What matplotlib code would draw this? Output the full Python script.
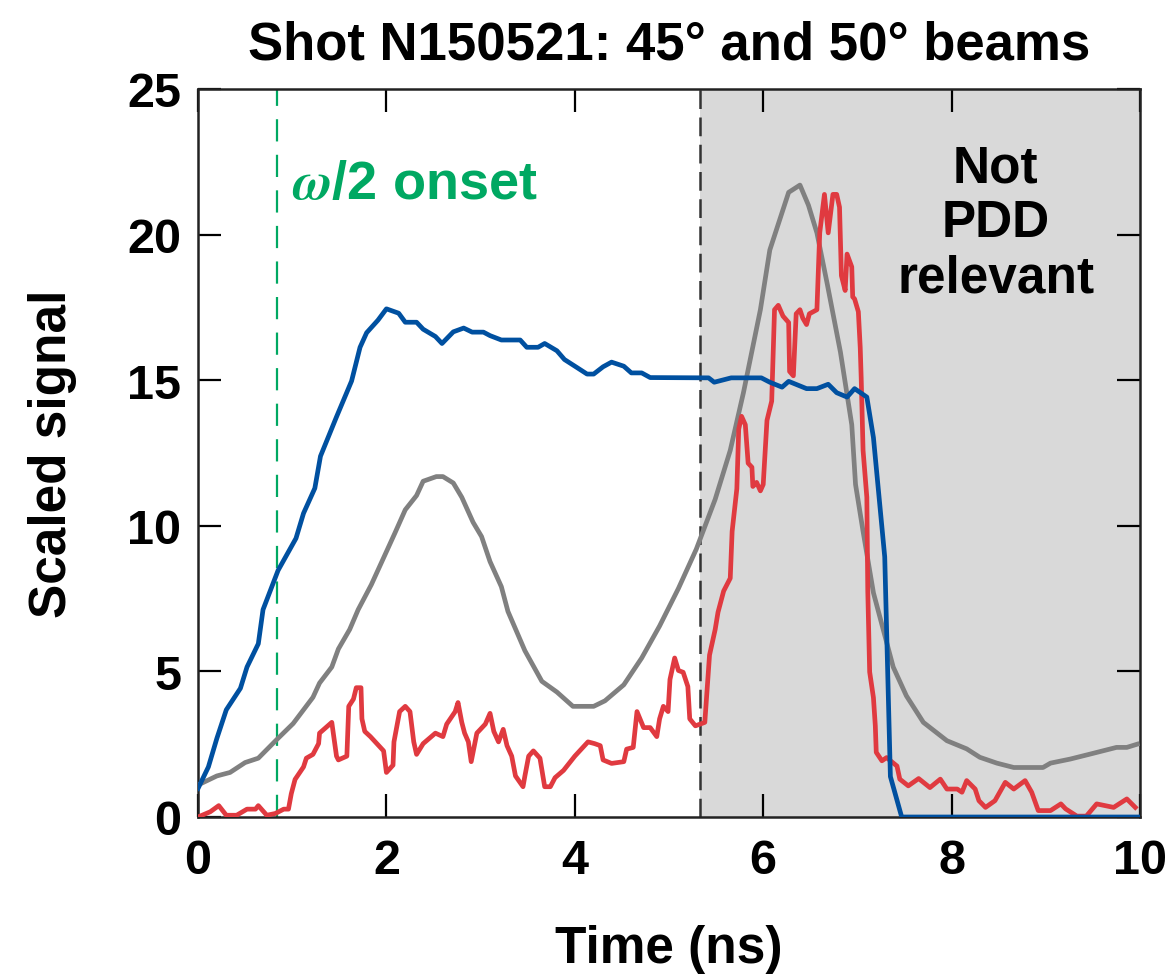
import matplotlib
matplotlib.use('Agg')
import matplotlib.pyplot as plt

# 读图得到的数据
blue_t = [0, 0.11, 0.20, 0.30, 0.45, 0.52, 0.64, 0.69, 0.85, 1.04, 1.12, 1.24, 1.30, 1.47, 1.63, 1.72, 1.79,
          1.91, 2.00, 2.13, 2.20, 2.32, 2.39, 2.52, 2.59, 2.71, 2.82, 2.91, 3.03, 3.10, 3.22, 3.42, 3.49, 3.61,
          3.68, 3.81, 3.89, 4.02, 4.13, 4.20, 4.30, 4.39, 4.52, 4.60, 4.71, 4.80, 5.42, 5.48, 5.66, 5.98, 6.07,
          6.20, 6.27, 6.46, 6.57, 6.69, 6.78, 6.89, 6.97, 7.10, 7.17, 7.29, 7.35, 7.47, 10.0]
blue_v = [0.98, 1.72, 2.7, 3.68, 4.42, 5.15, 5.95, 7.12, 8.47, 9.57, 10.43, 11.29, 12.39, 13.74, 14.97, 16.13,
          16.63, 17.06, 17.45, 17.30, 16.99, 16.99, 16.75, 16.50, 16.26, 16.66, 16.79, 16.65, 16.65, 16.53,
          16.38, 16.38, 16.13, 16.13, 16.26, 16.01, 15.71, 15.44, 15.21, 15.21, 15.46, 15.62, 15.48, 15.25,
          15.25, 15.09, 15.08, 14.93, 15.08, 15.08, 14.93, 14.76, 14.96, 14.71, 14.71, 14.86, 14.57, 14.42,
          14.71, 14.42, 13.03, 8.93, 1.39, 0.0, 0.0]

gray_t = [0, 0.20, 0.34, 0.50, 0.64, 0.83, 1.01, 1.22, 1.29, 1.42, 1.49, 1.61, 1.70, 1.84, 1.97, 2.09, 2.20,
          2.32, 2.39, 2.53, 2.60, 2.71, 2.80, 2.92, 3.01, 3.10, 3.22, 3.29, 3.47, 3.65, 3.81, 3.98, 4.20, 4.32,
          4.52, 4.71, 4.90, 5.10, 5.29, 5.49, 5.65, 5.79, 5.97, 6.07, 6.27, 6.39, 6.48, 6.57, 6.68, 6.82, 6.94,
          6.98, 7.06, 7.17, 7.38, 7.52, 7.70, 7.95, 8.16, 8.30, 8.48, 8.66, 8.97, 9.05, 9.26, 9.47, 9.75, 9.86,
          9.97]
gray_v = [1.1, 1.41, 1.53, 1.87, 2.02, 2.64, 3.21, 4.11, 4.60, 5.15, 5.77, 6.44, 7.12, 7.98, 8.90, 9.75, 10.55,
          11.04, 11.53, 11.69, 11.69, 11.47, 10.98, 10.12, 9.63, 8.77, 7.91, 7.06, 5.71, 4.66, 4.29, 3.80, 3.80,
          3.99, 4.54, 5.46, 6.56, 7.85, 9.2, 10.91, 12.59, 14.57, 17.42, 19.47, 21.45, 21.70, 21.01, 20.06,
          18.30, 15.96, 13.47, 11.42, 9.81, 7.7, 5.15, 4.16, 3.25, 2.62, 2.34, 2.05, 1.85, 1.70, 1.70, 1.85,
          1.99, 2.16, 2.39, 2.39, 2.50]

red_t = [0, 0.13, 0.22, 0.30, 0.41, 0.52, 0.61, 0.64, 0.73, 0.82, 0.91, 0.96, 0.99, 1.03, 1.12, 1.15, 1.22,
         1.28, 1.29, 1.42, 1.47, 1.49, 1.58, 1.60, 1.65, 1.68, 1.73, 1.74, 1.77, 1.83, 1.97, 2.00, 2.07, 2.08,
         2.14, 2.20, 2.25, 2.29, 2.32, 2.39, 2.52, 2.60, 2.64, 2.73, 2.76, 2.80, 2.83, 2.87, 2.90, 2.96, 3.05,
         3.10, 3.14, 3.19, 3.24, 3.28, 3.33, 3.37, 3.45, 3.47, 3.51, 3.56, 3.63, 3.68, 3.74, 3.79, 3.88, 4.00,
         4.14, 4.21, 4.27, 4.30, 4.39, 4.52, 4.55, 4.62, 4.66, 4.73, 4.80, 4.87, 4.90, 4.94, 4.99, 5.01, 5.06,
         5.10, 5.15, 5.20, 5.22, 5.28, 5.38, 5.43, 5.49, 5.52, 5.58, 5.65, 5.67, 5.72, 5.74, 5.77, 5.81, 5.84,
         5.88, 5.89, 5.93, 5.97, 6.00, 6.04, 6.09, 6.12, 6.16, 6.21, 6.27, 6.28, 6.32, 6.35, 6.39, 6.42, 6.46,
         6.49, 6.57, 6.58, 6.60, 6.65, 6.69, 6.74, 6.78, 6.81, 6.83, 6.87, 6.89, 6.94, 6.95, 6.97, 7.01, 7.03,
         7.04, 7.06, 7.10, 7.11, 7.13, 7.17, 7.19, 7.20, 7.26, 7.31, 7.42, 7.45, 7.54, 7.65, 7.77, 7.88, 7.95,
         8.06, 8.11, 8.16, 8.25, 8.29, 8.36, 8.46, 8.57, 8.66, 8.78, 8.85, 8.92, 9.05, 9.16, 9.21, 9.33, 9.43,
         9.54, 9.72, 9.86, 9.95]
red_v = [0, 0.18, 0.39, 0.06, 0.06, 0.27, 0.27, 0.39, 0.06, 0.12, 0.27, 0.27, 0.80, 1.29, 1.72, 2.02, 2.15,
         2.52, 2.88, 3.25, 2.09, 1.96, 2.09, 3.80, 4.05, 4.44, 4.44, 3.37, 2.94, 2.76, 2.27, 1.53, 1.78, 2.58,
         3.62, 3.80, 3.62, 2.58, 2.15, 2.52, 2.88, 2.76, 3.19, 3.62, 3.93, 3.25, 2.88, 2.58, 1.90, 2.88, 3.19,
         3.56, 2.94, 2.58, 3.01, 2.45, 2.09, 1.41, 1.04, 1.41, 2.09, 2.27, 2.02, 1.04, 1.04, 1.35, 1.60, 2.09,
         2.58, 2.52, 2.45, 1.96, 1.84, 1.90, 2.33, 2.39, 3.62, 3.07, 3.07, 2.76, 3.37, 3.80, 3.62, 4.72, 5.46,
         5.03, 4.97, 4.48, 3.37, 3.13, 3.25, 5.56, 6.44, 7.03, 7.76, 8.20, 9.81, 11.27, 13.32, 13.76, 13.47,
         12.15, 12.01, 11.35, 11.49, 11.20, 11.42, 13.62, 14.28, 17.42, 17.57, 17.20, 16.98, 15.30, 15.15,
         17.28, 17.42, 17.13, 16.91, 17.28, 17.42, 18.30, 20.06, 21.38, 20.06, 21.38, 21.38, 20.94, 18.59,
         18.08, 19.33, 18.89, 17.86, 17.79, 17.35, 16.11, 15.08, 12.59, 10.98, 7.76, 4.98, 4.10, 3.13,
         2.22, 1.93, 2.04, 1.75, 1.30, 1.07, 1.32, 1.01, 1.30, 0.96, 0.96, 0.85, 1.25, 0.96, 0.56, 0.33, 0.56,
         1.19, 0.96, 1.25, 0.85, 0.22, 0.22, 0.45, 0.28, 0.03, 0.03, 0.45, 0.33, 0.62, 0.33]

onset_t = 0.84
pdd_t = 5.33

plt.rcParams['font.family'] = ['Liberation Sans', 'DejaVu Sans']
plt.rcParams['font.weight'] = 'bold'
plt.rcParams['mathtext.fontset'] = 'stix'

fig = plt.figure(figsize=(11.69, 9.78), dpi=100)
ax = fig.add_axes([0.1694, 0.1636, 0.8058, 0.7444])

ax.axvspan(pdd_t, 10, color='#d9d9d9', lw=0, zorder=0)
ax.axvline(pdd_t, color='#333333', ls=(0, (7.5, 3.4)), lw=1.8, zorder=1)
ax.axvline(onset_t, color='#00a862', ls=(0, (10, 6)), lw=1.6, zorder=1)

ax.plot(gray_t, gray_v, color='#808080', lw=3.4, zorder=3)
ax.plot(red_t, red_v, color='#e03a40', lw=3.4, zorder=4)
ax.plot(blue_t, blue_v, color='#0050a0', lw=3.4, zorder=5)

ax.text(1.0, 21.75, r'$\omega$/2 onset', color='#00a862', fontsize=39, fontweight='bold', va='center')
ax.text(8.47, 20.4, 'Not\nPDD\nrelevant', color='black', fontsize=37, fontweight='bold',
        ha='center', va='center', linespacing=1.15)

ax.set_xlim(0, 10)
ax.set_ylim(0, 25)
ax.set_xticks([0, 2, 4, 6, 8, 10])
ax.set_yticks([0, 5, 10, 15, 20, 25])
ax.tick_params(direction='in', length=16.5, width=1.6, labelsize=35, top=True, right=True)
ax.tick_params(axis='x', pad=15)
ax.tick_params(axis='y', pad=12)
for s in ax.spines.values():
    s.set_linewidth(1.8)
    s.set_color('#222222')

ax.set_xlabel('Time (ns)', fontsize=37, fontweight='bold', labelpad=30)
ax.set_ylabel('Scaled signal', fontsize=37, fontweight='bold', labelpad=36)
ax.set_title('Shot N150521: 45° and 50° beams', fontsize=38, fontweight='bold', pad=22)

plt.savefig('out.png', dpi=100)
